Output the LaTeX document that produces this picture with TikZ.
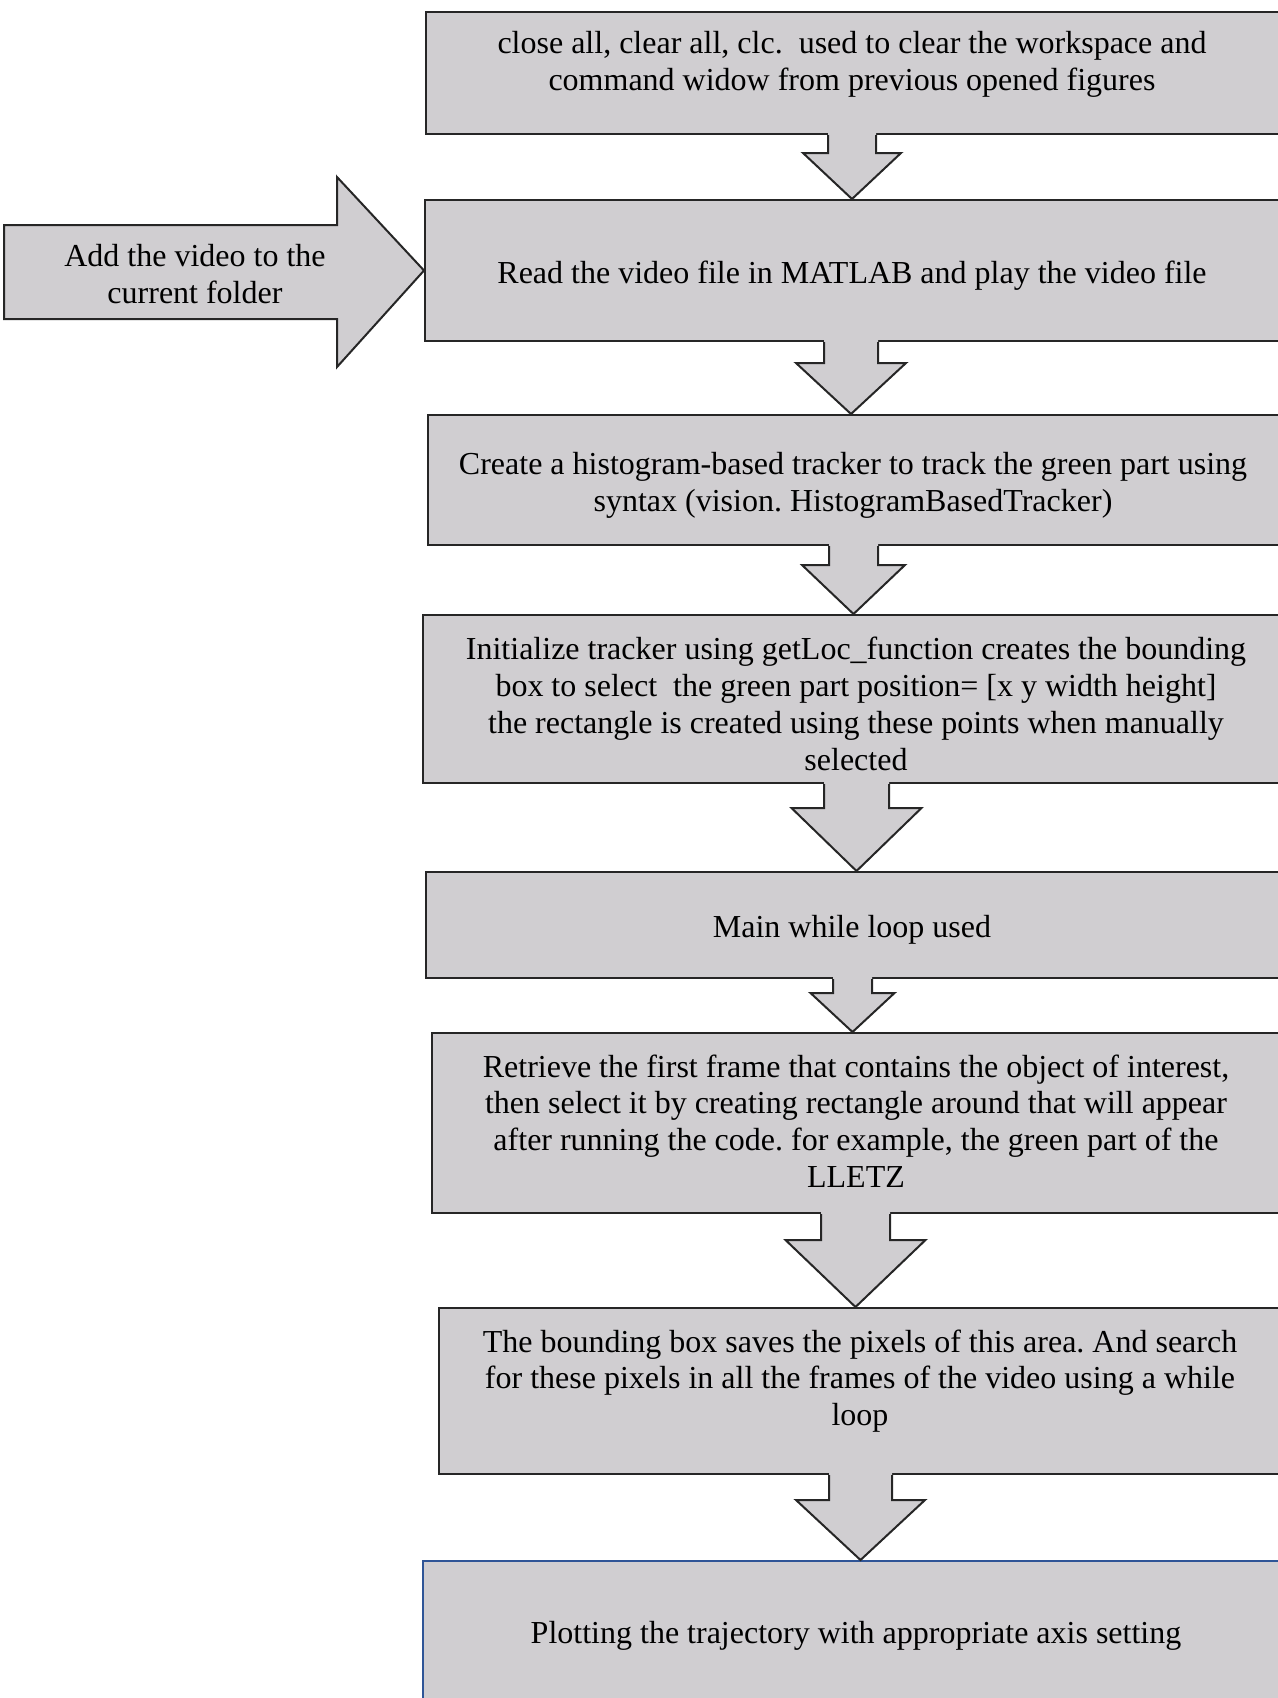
\documentclass[tikz,border=0pt]{standalone}
\usepackage{fontspec}
\setmainfont{Liberation Serif}
\usetikzlibrary{calc, positioning, fit}
\definecolor{boxgray}{RGB}{208,206,209}
\definecolor{edgedark}{RGB}{38,38,38}
\definecolor{edgeblue}{RGB}{47,85,151}
\tikzset{
    step_box/.style={rectangle, inner sep=0pt, fill=boxgray, draw=edgedark, line width=1pt},
    last_box/.style={step_box, draw=edgeblue},
    box_text/.style={inner sep=0pt, text centered, align=center, font=\fontsize{16}{18.4}\selectfont\frenchspacing},
    block_edge/.style={draw=edgedark, line width=1pt},
}
\newcommand{\downblock}[6]{%
  \path (#1.south) ++(0,-2) coordinate (neck_top);
  \fill [boxgray] (neck_top -| #3-#4,0) -- (#3-#4,#6) -- (#3-#5,#6) -- (#2.north -| #3,0)
    -- (#3+#5,#6) -- (#3+#4,#6) -- (neck_top -| #3+#4,0) -- cycle;
  \draw [block_edge] (#1.south -| #3-#4,0) -- (#3-#4,#6) -- (#3-#5,#6) -- (#2.north -| #3,0)
    -- (#3+#5,#6) -- (#3+#4,#6) -- (#1.south -| #3+#4,0);}

\begin{document}
\begin{tikzpicture}[x=0.5pt, y=-0.5pt]
      \clip (0,0) rectangle (1278,1698);

      \node (b1) [step_box, fit={(426,12) (1282,134)}]{};
      \node (b2) [step_box, fit={(425,200) (1282,341)}]{};
      \node (b3) [step_box, fit={(428,415) (1282,545)}]{};
      \node (b4) [step_box, fit={(423,615) (1282,783)}]{};
      \node (b5) [step_box, fit={(426,872) (1282,978)}]{};
      \node (b6) [step_box, fit={(432,1033) (1282,1213)}]{};
      \node (b7) [step_box, fit={(439,1308) (1282,1474)}]{};
      \node (b8) [last_box, fit={(423,1561) (1282,1720)}]{};

      \node (t1) at (852,64) [box_text]{close all, clear all, clc.~ used to clear the workspace and\\command widow from previous opened figures};
      \node (t2) at (852,276) [box_text]{Read the video file in MATLAB and play the video file};
      \node (t3) at (853,485) [box_text]{Create a histogram-based tracker to track the green part using\\syntax (vision. HistogramBasedTracker)};
      \node (t4) at (856,704) [box_text]{Initialize tracker using getLoc\_function creates the bounding\\box to select~ the green part position= [x y width height]\\the rectangle is created using these points when manually\\selected};
      \node (t5) at (852,930) [box_text]{Main while loop used};
      \node (t6) at (856,1121) [box_text]{Retrieve the first frame that contains the object of interest,\\then select it by creating rectangle around that will appear\\after running the code. for example, the green part of the\\LLETZ};
      \node (t7) at (860,1381) [box_text]{The bounding box saves the pixels of this area. And search\\for these pixels in all the frames of the video using a while\\loop};
      \node (t8) at (856,1636) [box_text]{Plotting the trajectory with appropriate axis setting};

      \draw [block_edge, fill=boxgray] (4,225) -- (337,225) -- (337,177) -- (b2.west)
        -- (337,367) -- (337,319) -- (4,319) -- cycle;
      \node (add_video) at (195,274) [box_text]{Add the video to the\\current folder};

      \downblock{b1}{b2}{852}{24}{49}{153}
      \downblock{b2}{b3}{851}{27}{55}{363}
      \downblock{b3}{b4}{853.5}{24.5}{51.5}{565}
      \downblock{b4}{b5}{856.5}{32.5}{65}{808}
      \downblock{b5}{b6}{852.5}{19.5}{42}{993}
      \downblock{b6}{b7}{855.5}{34.5}{70}{1240}
      \downblock{b7}{b8}{860.5}{31.5}{64.5}{1500}
\end{tikzpicture}
\end{document}
